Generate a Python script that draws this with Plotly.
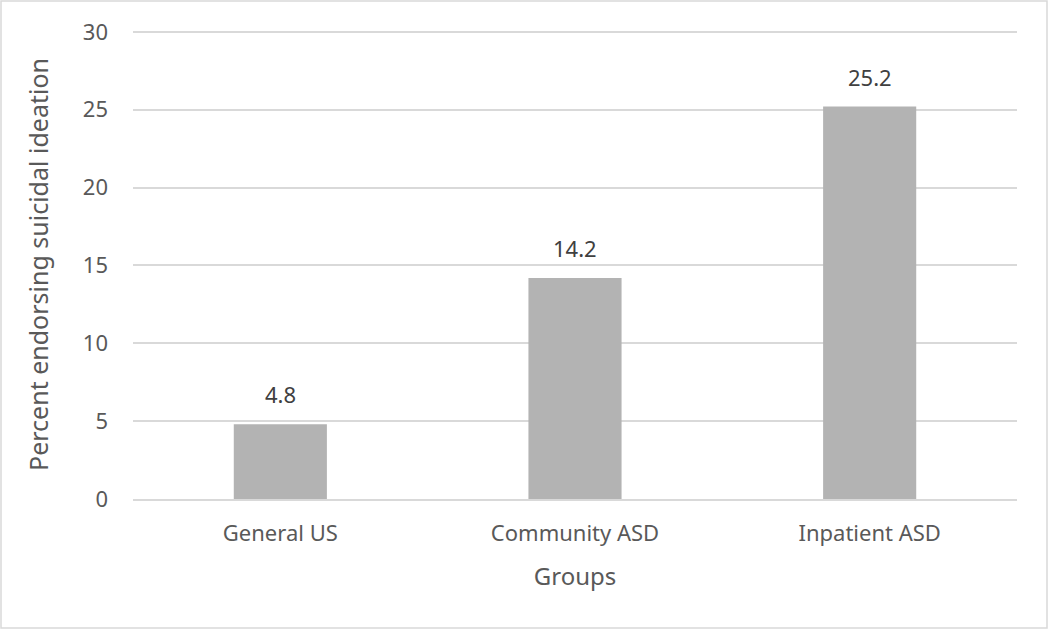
import plotly.graph_objects as go

groups = ['General US', 'Community ASD', 'Inpatient ASD']
percent_si = [4.8, 14.2, 25.2]
y_ticks = [0, 5, 10, 15, 20, 25, 30]

W, H = 1050, 630
L, R, T, B = 133, 33, 30, 131
pw, ph = W - L - R, H - T - B
FONT = 'Noto Sans, Open Sans, sans-serif'

fig = go.Figure()
fig.add_trace(go.Bar(x=groups, y=percent_si, marker=dict(color='#b3b3b3', line=dict(width=0)),
                     hoverinfo='x+y'))

# value labels above the bars
for g, v in zip(groups, percent_si):
    fig.add_annotation(x=g, y=v, text=f'{v:.1f}', showarrow=False, yanchor='bottom', yshift=13,
                       font=dict(size=22, color='#404040'))

fig.update_layout(width=W, height=H, margin=dict(l=L, r=R, t=T, b=B), bargap=0.684,
                  plot_bgcolor='white', paper_bgcolor='white', showlegend=False,
                  font=dict(family=FONT, color='#595959', size=22))

# thin frame around the whole chart
fig.add_shape(type='rect', xref='paper', yref='paper',
              x0=(1 - L) / pw, x1=(W - 3 - L) / pw,
              y0=(H - B - (H - 2)) / ph, y1=(H - B - 1) / ph,
              line=dict(color='#d9d9d9', width=1.5), fillcolor='rgba(0,0,0,0)', layer='below')

fig.update_xaxes(title=dict(text='Groups', font=dict(size=24), standoff=22), showgrid=False,
                 showline=True, linecolor='#d9d9d9', linewidth=1.5, ticks='', tickfont=dict(size=22),
                 ticklabelstandoff=14)
fig.update_yaxes(title=dict(text='Percent endorsing suicidal ideation', font=dict(size=25), standoff=27),
                 range=[0, 30.12], tickvals=y_ticks, showgrid=True, gridcolor='#d9d9d9', gridwidth=1.5,
                 zeroline=False, showline=False, ticks='', tickfont=dict(size=22), ticklabelstandoff=24)

fig.write_html('out.html', config={'displayModeBar': False},
               post_script="document.body.style.margin='0';")
